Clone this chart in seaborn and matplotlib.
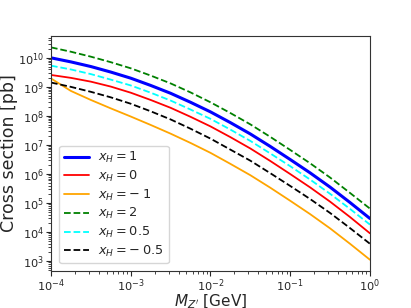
import numpy as np
import pandas as pd
import matplotlib
matplotlib.use("Agg")
import matplotlib.pyplot as plt
import seaborn as sns

# log10 of M_Z' [GeV]
log_mass = [-4.0, -3.75, -3.5, -3.25, -3.0, -2.75, -2.5, -2.25, -2.0,
            -1.75, -1.5, -1.25, -1.0, -0.75, -0.5, -0.25, 0.0]

# log10 of cross section [pb]
xh_1 = [10.00, 9.86, 9.70, 9.51, 9.30, 9.05, 8.78, 8.47, 8.14,
        7.77, 7.38, 6.95, 6.50, 6.04, 5.55, 5.02, 4.47]
xh_0 = [9.41, 9.31, 9.18, 9.01, 8.80, 8.55, 8.28, 7.97, 7.64,
        7.27, 6.88, 6.45, 6.00, 5.54, 5.05, 4.52, 3.96]
xh_m1 = [9.29, 8.86, 8.55, 8.26, 7.98, 7.69, 7.39, 7.07, 6.73,
         6.35, 5.96, 5.53, 5.08, 4.62, 4.13, 3.60, 3.05]
xh_2 = [10.36, 10.21, 10.04, 9.85, 9.64, 9.39, 9.12, 8.81, 8.47,
        8.10, 7.71, 7.28, 6.83, 6.37, 5.88, 5.35, 4.81]
xh_05 = [9.73, 9.60, 9.44, 9.25, 9.05, 8.80, 8.53, 8.22, 7.90,
         7.53, 7.14, 6.71, 6.27, 5.81, 5.32, 4.80, 4.26]
xh_m05 = [9.15, 9.00, 8.83, 8.64, 8.42, 8.16, 7.88, 7.56, 7.22,
          6.84, 6.46, 6.03, 5.59, 5.14, 4.66, 4.14, 3.60]

labels = [r"$x_H = 1$", r"$x_H = 0$", r"$x_H = -\:1$",
          r"$x_H = 2$", r"$x_H = 0.5$", r"$x_H = -\:0.5$"]
series = [xh_1, xh_0, xh_m1, xh_2, xh_05, xh_m05]
colors = ["blue", "red", "orange", "green", "cyan", "black"]
styles = ["-", "-", "-", "--", "--", "--"]
widths = [2.2, 1.3, 1.3, 1.3, 1.3, 1.3]

sns.set_style("ticks", rc={
    "xtick.major.size": 2.5, "ytick.major.size": 3.0,
    "xtick.minor.size": 1.5, "ytick.minor.size": 1.7,
    "axes.edgecolor": "#333333",
})
plt.rcParams["font.family"] = ["DejaVu Sans"]

fig = plt.figure(figsize=(4.11, 3.08), dpi=100)
ax = fig.add_axes([0.124, 0.120, 0.776, 0.763])

mass = 10.0 ** np.array(log_mass)
for lab, vals, c, ls, lw in zip(labels, series, colors, styles, widths):
    df = pd.DataFrame({"M": mass, "sigma": 10.0 ** np.array(vals)})
    sns.lineplot(data=df, x="M", y="sigma", ax=ax, color=c, linestyle=ls,
                 linewidth=lw, label=lab)

ax.set_xscale("log")
ax.set_yscale("log")
ax.set_xlim(1e-4, 1)
ax.set_ylim(10 ** 2.66, 10 ** 10.75)
ax.set_yticks([1e3, 1e4, 1e5, 1e6, 1e7, 1e8, 1e9, 1e10])
ax.tick_params(axis="y", labelsize=8.2, pad=1.5)
ax.tick_params(axis="x", labelsize=8.2, pad=0.8)
ax.set_xlabel(r"$M_{Z'}$ [GeV]", fontsize=11, labelpad=-0.5)
ax.set_ylabel("Cross section [pb]", fontsize=12.5, labelpad=0)
for s in ax.spines.values():
    s.set_visible(True)

leg = ax.legend(loc="lower left", fontsize=9.3, frameon=True,
                handlelength=2.0, borderpad=0.35, labelspacing=0.28,
                handletextpad=0.7, bbox_to_anchor=(0.005, 0.005))

fig.savefig("out.png", dpi=100)
